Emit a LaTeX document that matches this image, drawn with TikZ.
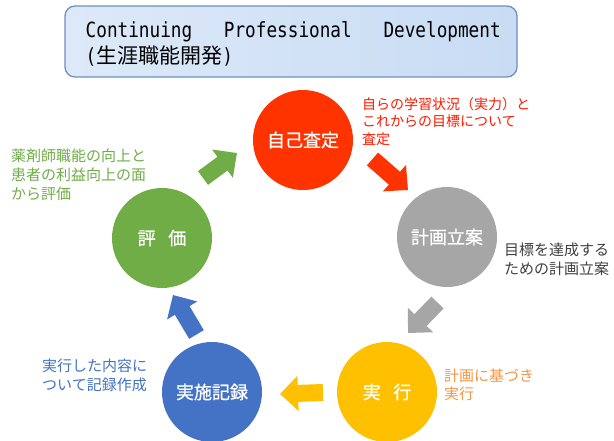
\documentclass[tikz,border=0pt]{standalone}
\usepackage{graphicx}
\usepackage{fontspec}
\setmainfont{Noto Sans CJK JP}
\newfontfamily\semibold[FakeBold=0.8]{Noto Sans CJK JP}
\newfontfamily\monofont{DejaVu Sans Mono}
\usetikzlibrary{arrows.meta}
\definecolor{cRed}{HTML}{FF3300}
\definecolor{cGray}{HTML}{A6A6A6}
\definecolor{cYellow}{HTML}{FFC000}
\definecolor{cBlue}{HTML}{4472C4}
\definecolor{cGreen}{HTML}{70AD47}
\definecolor{tRed}{HTML}{FF1A00}
\definecolor{tGray}{HTML}{404040}
\definecolor{tOrange}{HTML}{F79646}
\definecolor{tBlue}{HTML}{4472C4}
\definecolor{tGreen}{HTML}{70AD47}
\definecolor{bxBorder}{HTML}{6F8FC0}
\definecolor{bxL}{HTML}{DDE9F8}
\definecolor{bxM}{HTML}{A3C4EF}
\definecolor{bxR}{HTML}{C8DCF4}
\begin{document}
\begin{tikzpicture}[x=1pt,y=-1pt,
  circ/.style={circle, minimum size=100pt, inner sep=0pt, text=white,
    font=\semibold\fontsize{18}{20}\selectfont},
  blk/.style={line width=17pt, line cap=butt, -{Triangle[width=34pt,length=18pt]}},
  note/.style={anchor=west, inner sep=0pt, align=left}]
\useasboundingbox (0,0) rectangle (614,441);
\fill[white] (0,0) rectangle (614,441);
% title box
\node[draw=bxBorder, line width=1.3pt, rounded corners=10pt,
  minimum width=452pt, minimum height=71pt, inner sep=0pt,
  left color=bxL, middle color=bxM, right color=bxR] (title) at (291,41.5) {};
\node[anchor=base west, inner sep=0pt, font=\monofont\fontsize{17.7}{20}\selectfont]
  (t1) at (85.5,38) {\scalebox{1}[1.18]{Continuing\hspace{31.7pt}Professional\hspace{31.7pt}Development}};
\node[anchor=base west, inner sep=0pt, font=\fontsize{21}{24}\selectfont]
  (t2) at (85.5,64) {{\monofont\fontsize{17.7}{20}\selectfont\scalebox{1}[1.18]{(}}生涯職能開発{\monofont\fontsize{17.7}{20}\selectfont\scalebox{1}[1.18]{)}}};
% circles
\node[circ, fill=cRed] (red) at (303,140) {自己査定};
\node[circ, fill=cGray] (gray) at (447,237) {計画立案};
\node[circ, fill=cYellow] (yellow) at (387,392) {実\hspace{0.7em}行};
\node[circ, fill=cBlue] (blue) at (212,392) {実施記録};
\node[circ, fill=cGreen] (green) at (162,238) {評\hspace{0.7em}価};
% arrow end points
\coordinate (g1) at (203,178); \coordinate (g2) at (237,153);
\coordinate (r1) at (372.5,159); \coordinate (r2) at (408,190);
\coordinate (k1) at (437.5,302.5); \coordinate (k2) at (408,333);
\coordinate (y1) at (323,392.5); \coordinate (y2) at (280,394);
\coordinate (b1) at (196.5,334.5); \coordinate (b2) at (173,295);
\draw[blk, cGreen] (g1) -- (g2);
\draw[blk, cRed] (r1) -- (r2);
\draw[blk, cGray] (k1) -- (k2);
\draw[blk, cYellow] (y1) -- (y2);
\draw[blk, cBlue] (b1) -- (b2);
% notes
\node[note, text=tRed, font=\fontsize{14}{17.5}\selectfont] (nr) at (362,121.5)
  {自らの学習状況（実力）と\\これからの目標について\\査定};
\node[note, text=tGray, font=\fontsize{15}{19}\selectfont] (ng) at (504,259.5)
  {目標を達成する\\ための計画立案};
\node[note, text=tOrange, font=\fontsize{15}{18}\selectfont] (no) at (444,384.5)
  {計画に基づき\\実行};
\node[note, text=tBlue, font=\fontsize{15}{19}\selectfont] (nb) at (42,375.5)
  {実行した内容に\\ついて記録作成};
\node[note, text=tGreen, font=\fontsize{15}{19}\selectfont] (ngr) at (11,175)
  {薬剤師職能の向上と\\患者の利益向上の面\\から評価};
\end{tikzpicture}
\end{document}
